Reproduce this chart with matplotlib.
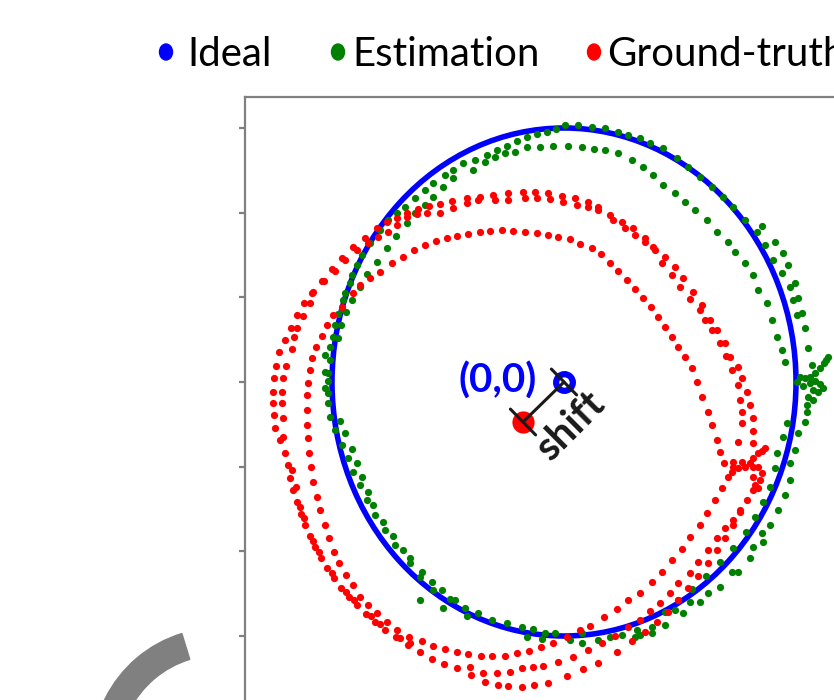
import numpy as np
import matplotlib
matplotlib.use("Agg")
import matplotlib.pyplot as plt
from matplotlib.patches import Ellipse, Wedge

# ------------------------------------------------------------------
# Data (units: cm, origin at the ideal trajectory centre)
# ------------------------------------------------------------------
legend_labels = ["Ideal", "Estimation", "Ground-truth"]
series_colors = ["#0000ff", "#008000", "#ff0000"]

ideal_center = (0, 0)
ideal_radius_x = 232
ideal_radius_y = 254
gt_center = (-41, -40)

y_ticks = [-254, -169, -85, 0, 85, 169, 254]

# --- Estimation (green) ---
est_left = [(-101, 219), (-111, 212), (-119, 207), (-131, 199), (-139, 192), (-149, 184),
            (-159, 175), (-167, 169), (-176, 162), (-184, 152), (-194, 139), (-202, 127),
            (-207, 117), (-212, 107), (-214, 99), (-219, 89), (-221, 82), (-222, 73),
            (-226, 68), (-229, 57), (-231, 45), (-234, 35), (-234, 22), (-236, 9),
            (-236, 1), (-236, -11), (-236, -21), (-239, 27), (-239, 10), (-239, -6)]
est_inner_left = [(-111, 204), (-121, 195), (-131, 185), (-139, 177), (-149, 169),
                  (-157, 159), (-168, 146), (-177, 134), (-187, 120), (-197, 108),
                  (-204, 95), (-212, 82), (-218, 70), (-223, 57), (-226, 44)]
est_top = [(-89, 222), (-77, 227), (-67, 232), (-57, 236), (-47, 241), (-37, 245),
           (-27, 248), (-17, 250), (-8, 253), (1, 257), (14, 257), (28, 255), (41, 254),
           (54, 250), (64, 247), (76, 244), (86, 239),
           (-91, 212), (-79, 220), (-69, 225), (-59, 229), (-49, 230), (-37, 235),
           (-24, 235), (-11, 236), (4, 236), (18, 235), (30, 233), (41, 232), (54, 229),
           (68, 222), (79, 215), (89, 207)]
est_upper_right = [(99, 197), (111, 189), (121, 180), (131, 172), (143, 162), (153, 150),
                   (164, 140), (171, 130), (181, 119), (189, 107), (194, 92), (203, 79),
                   (208, 62), (213, 45), (218, 32), (221, 20),
                   (99, 234), (113, 224), (124, 215), (136, 205), (148, 195), (159, 185),
                   (169, 175),
                   (181, 162), (193, 150), (201, 137), (209, 122), (218, 109), (226, 95),
                   (229, 82), (233, 67),
                   (198, 156), (211, 140), (219, 129), (224, 117), (231, 99), (234, 84),
                   (238, 69), (241, 54), (244, 34), (248, 17)]
est_tangle = [(264, 25), (262, 22), (260, 19), (256, 14), (251, 9), (246, 5), (241, 4),
              (236, 5), (233, 0), (239, -4), (246, -1), (249, -8), (254, -10), (259, -6),
              (256, -2), (251, 1), (244, -15), (243, -23)]
est_lower_right = [(249, -18), (243, -30), (241, -40), (234, -51), (231, -68), (226, -81),
                   (226, -98), (221, -113), (214, -128), (206, -143), (198, -151),
                   (199, -160), (189, -165), (186, -176), (174, -190), (168, -190),
                   (156, -205), (144, -211), (136, -220), (126, -220), (119, -231),
                   (111, -228), (101, -243), (88, -251),
                   (223, -41), (219, -55), (213, -71), (211, -86), (206, -105), (199, -120),
                   (191, -135), (182, -150), (169, -166), (156, -180), (142, -194),
                   (128, -207), (114, -218), (101, -230)]
est_bottom = [(-109, -218), (-99, -226), (-86, -231), (-72, -238), (-57, -241), (-42, -245),
              (-31, -247), (-19, -251), (-9, -251), (6, -258), (18, -261), (34, -258),
              (46, -255), (58, -253), (71, -255), (76, -253), (88, -245), (-97, -234),
              (-37, -255), (-22, -257), (18, -251), (73, -248), (-144, -218)]
est_lower_left = [(-234, -35), (-224, -39), (-229, -48), (-219, -51), (-222, -63),
                  (-212, -67), (-216, -76), (-207, -81), (-211, -90), (-202, -95),
                  (-204, -103), (-196, -110), (-197, -118), (-191, -123), (-189, -133),
                  (-181, -140), (-179, -148), (-171, -154), (-169, -163), (-161, -168),
                  (-154, -176), (-154, -181), (-142, -190), (-144, -195), (-132, -200),
                  (-131, -208), (-122, -208), (-114, -217), (-121, -226)]

# --- Ground-truth (red) ---
gt_outer_1 = [(189, -61), (189, -49), (189, -36), (186, -23), (183, -10), (178, 4), (174, 15),
              (166, 25), (161, 39), (153, 52), (146, 62), (138, 77), (129, 90), (119, 104),
              (111, 115), (101, 125), (89, 135), (81, 144), (69, 154), (58, 160), (46, 167),
              (34, 175), (24, 180), (11, 184), (-2, 186), (-16, 189), (-29, 190), (-41, 190),
              (-56, 189), (-71, 187), (-84, 185), (-97, 184), (-112, 181), (-124, 178),
              (-135, 176), (-146, 173), (-157, 169), (-167, 164), (-177, 160), (-187, 154),
              (-199, 144), (-211, 135), (-222, 124), (-232, 113), (-242, 101), (-252, 89),
              (-260, 79), (-267, 67), (-273, 54), (-279, 42), (-285, 30), (-288, 16),
              (-290, 4), (-291, -10), (-291, -21), (-290, -33), (-289, -46), (-284, -58),
              (-279, -71), (-276, -83), (-274, -96), (-271, -108), (-267, -120),
              (-263, -132), (-259, -143), (-254, -154), (-249, -165), (-243, -176),
              (-237, -186), (-230, -196), (-223, -206), (-215, -215), (-207, -223),
              (-198, -232), (-189, -240), (-179, -248), (-168, -255), (-156, -263),
              (-144, -270), (-132, -277), (-120, -282), (-107, -286), (-93, -293),
              (-79, -300), (-66, -303), (-56, -304), (-42, -305), (-30, -303), (-16, -301),
              (3, -294), (19, -287), (34, -281), (53, -270), (68, -259), (81, -250),
              (93, -240), (104, -230), (114, -218), (124, -206), (134, -194), (144, -181),
              (153, -168), (161, -156), (169, -143), (176, -130), (183, -118)]
gt_outer_2 = [(174, -60), (178, -41), (178, -30), (176, -18), (174, -3), (168, 12), (162, 26),
              (156, 39), (148, 52), (141, 62), (136, 72), (126, 83), (116, 95), (108, 107),
              (98, 119), (91, 132), (81, 140), (71, 147), (61, 154), (49, 162), (34, 172),
              (24, 175), (13, 177), (-1, 180), (-14, 183), (-27, 184), (-39, 184), (-56, 182),
              (-69, 182), (-86, 182), (-97, 179), (-111, 174), (-124, 169), (-137, 169),
              (-147, 168), (-157, 165), (-167, 157), (-176, 150), (-186, 145), (-196, 139),
              (-207, 132), (-219, 122), (-229, 111), (-240, 101), (-251, 90), (-254, 79),
              (-261, 66), (-267, 54), (-270, 45), (-272, 33), (-278, 16), (-281, 4),
              (-282, -10), (-282, -21), (-281, -36), (-281, -55), (-272, -88), (-268, -105),
              (-264, -125), (-260, -136), (-251, -159), (-245, -170), (-232, -191),
              (-218, -210), (-210, -218), (-193, -234), (-184, -242), (-164, -256),
              (-154, -261), (-94, -285), (-81, -291), (-67, -291), (-54, -290), (-42, -286),
              (-31, -285), (-21, -284), (-6, -280), (9, -275), (24, -268), (38, -261),
              (51, -254), (64, -245), (76, -238), (86, -229), (96, -221), (106, -211),
              (114, -201), (126, -191), (134, -180), (144, -168), (153, -156), (161, -146),
              (169, -138), (176, -128)]
gt_inner = [(160, -81), (156, -70), (153, -58), (148, -43), (144, -30), (138, -15), (133, 0),
            (128, 14), (121, 25), (114, 35), (108, 45), (101, 55), (94, 65), (87, 75),
            (79, 84), (71, 93), (63, 102), (54, 111), (46, 119), (37, 128), (28, 134),
            (16, 138), (6, 143), (-6, 145), (-16, 147), (-27, 149), (-39, 150), (-51, 151),
            (-62, 152), (-74, 151), (-84, 150), (-96, 148), (-107, 146), (-117, 144),
            (-128, 141), (-139, 137), (-150, 132), (-161, 125), (-172, 119), (-184, 110),
            (-194, 104), (-204, 97), (-211, 89), (-222, 75), (-231, 67), (-237, 57),
            (-242, 46), (-248, 35), (-252, 24), (-254, 12), (-256, -1), (-257, -13),
            (-257, -28), (-257, -43), (-256, -56), (-255, -71), (-253, -85), (-251, -100),
            (-247, -115), (-244, -128), (-239, -143), (-235, -156), (-230, -170),
            (-225, -181), (-218, -193), (-211, -203), (-204, -215), (-196, -223),
            (-187, -231), (-177, -240), (-167, -248), (-155, -255), (-142, -259),
            (-131, -264), (-119, -267), (-107, -270), (-96, -272), (-83, -274), (-72, -274),
            (-59, -274), (-47, -271), (-35, -269), (-23, -265), (-11, -261), (3, -255),
            (16, -248), (26, -244), (40, -235), (53, -227), (64, -218), (76, -211),
            (88, -200), (98, -190), (108, -178), (118, -167), (126, -155), (136, -143),
            (143, -131), (151, -118), (158, -106)]
gt_tangle = [(201, -66), (194, -71), (189, -76), (186, -81), (181, -85), (174, -86),
             (169, -85), (168, -90), (164, -95), (178, -80), (169, -80), (189, -85),
             (189, -95), (191, -103), (189, -108), (194, -106), (196, -98), (198, -91),
             (194, -85), (198, -69)]

est_points = np.array(est_left + est_inner_left + est_top + est_upper_right + est_tangle
                      + est_lower_right + est_bottom + est_lower_left, dtype=float)
gt_points = np.array(gt_outer_1 + gt_outer_2 + gt_inner + gt_tangle, dtype=float)

# ------------------------------------------------------------------
W, H, DPI = 834, 700, 100
fig = plt.figure(figsize=(W / DPI, H / DPI), dpi=DPI)
fig.patch.set_facecolor("white")

# axes extends beyond the right and bottom edges (cropped view)
ax_left_px, ax_right_px, ax_top_px, ax_bottom_px = 245, 900, 97, 760
ax = fig.add_axes([ax_left_px / W, (H - ax_bottom_px) / H,
                   (ax_right_px - ax_left_px) / W, (ax_bottom_px - ax_top_px) / H])
cx_px, cy_px = 564, 382
ax.set_xlim(ax_left_px - cx_px, ax_right_px - cx_px)
ax.set_ylim(cy_px - ax_bottom_px, cy_px - ax_top_px)

spine_col = "#808080"
for s in ["left", "top"]:
    ax.spines[s].set_color(spine_col)
    ax.spines[s].set_linewidth(1.6)
for s in ["right", "bottom"]:
    ax.spines[s].set_visible(False)
ax.set_xticks([])
ax.set_yticks(y_ticks)
ax.set_yticklabels([])
ax.tick_params(axis="y", length=4, width=1.6, color=spine_col, direction="out")

# ideal trajectory
ax.add_patch(Ellipse(ideal_center, 2 * ideal_radius_x, 2 * ideal_radius_y, fill=False,
                     edgecolor=series_colors[0], linewidth=4.0, zorder=2))
# estimation & ground truth
ax.scatter(est_points[:, 0], est_points[:, 1], s=27, color=series_colors[1],
           linewidths=0, zorder=3)
ax.scatter(gt_points[:, 0], gt_points[:, 1], s=27, color=series_colors[2],
           linewidths=0, zorder=4)

# centres and shift
ax.plot([gt_center[0]], [gt_center[1]], "o", ms=16, color=series_colors[2], mew=0, zorder=5)
ax.plot([ideal_center[0]], [ideal_center[1]], "o", ms=12, mfc="white",
        mec=series_colors[0], mew=4.5, zorder=5)
ax.annotate("", xy=ideal_center, xytext=gt_center,
            arrowprops=dict(arrowstyle="|-|,widthA=0.65,widthB=0.65", lw=2.2,
                            color="#1a1a1a", shrinkA=0, shrinkB=0, mutation_scale=20),
            zorder=6)
ax.annotate("(0,0)", xy=ideal_center, xytext=(-48, 1), textcoords="offset points",
            ha="center", va="center", fontsize=29, fontweight="bold",
            family="Lato", color=series_colors[0], zorder=7)
mid = ((ideal_center[0] + gt_center[0]) / 2, (ideal_center[1] + gt_center[1]) / 2)
ax.annotate("shift", xy=mid, xytext=(20, -17), textcoords="offset points",
            ha="center", va="center", rotation=45, rotation_mode="anchor",
            fontsize=29, fontweight="bold", family="Lato", color="#1a1a1a", zorder=7)

# legend (top)
leg_marker_x = [166, 338, 594]
leg_text_x = [187, 352, 607]
for lab, col, mx, tx in zip(legend_labels, series_colors, leg_marker_x, leg_text_x):
    fig.add_artist(Ellipse((mx / DPI, (H - 52) / DPI), 0.13, 0.16, color=col,
                           transform=fig.dpi_scale_trans))
    fig.text(tx / W, (H - 66) / H, lab, fontsize=29, family="Lato", color="black",
             ha="left", va="baseline")

# grey arc decoration (bottom-left)
fig.add_artist(Wedge((2.19, -0.55), 1.27, 107, 200, width=0.27, color="#808080",
                     transform=fig.dpi_scale_trans))

fig.savefig("out.png", dpi=DPI)
